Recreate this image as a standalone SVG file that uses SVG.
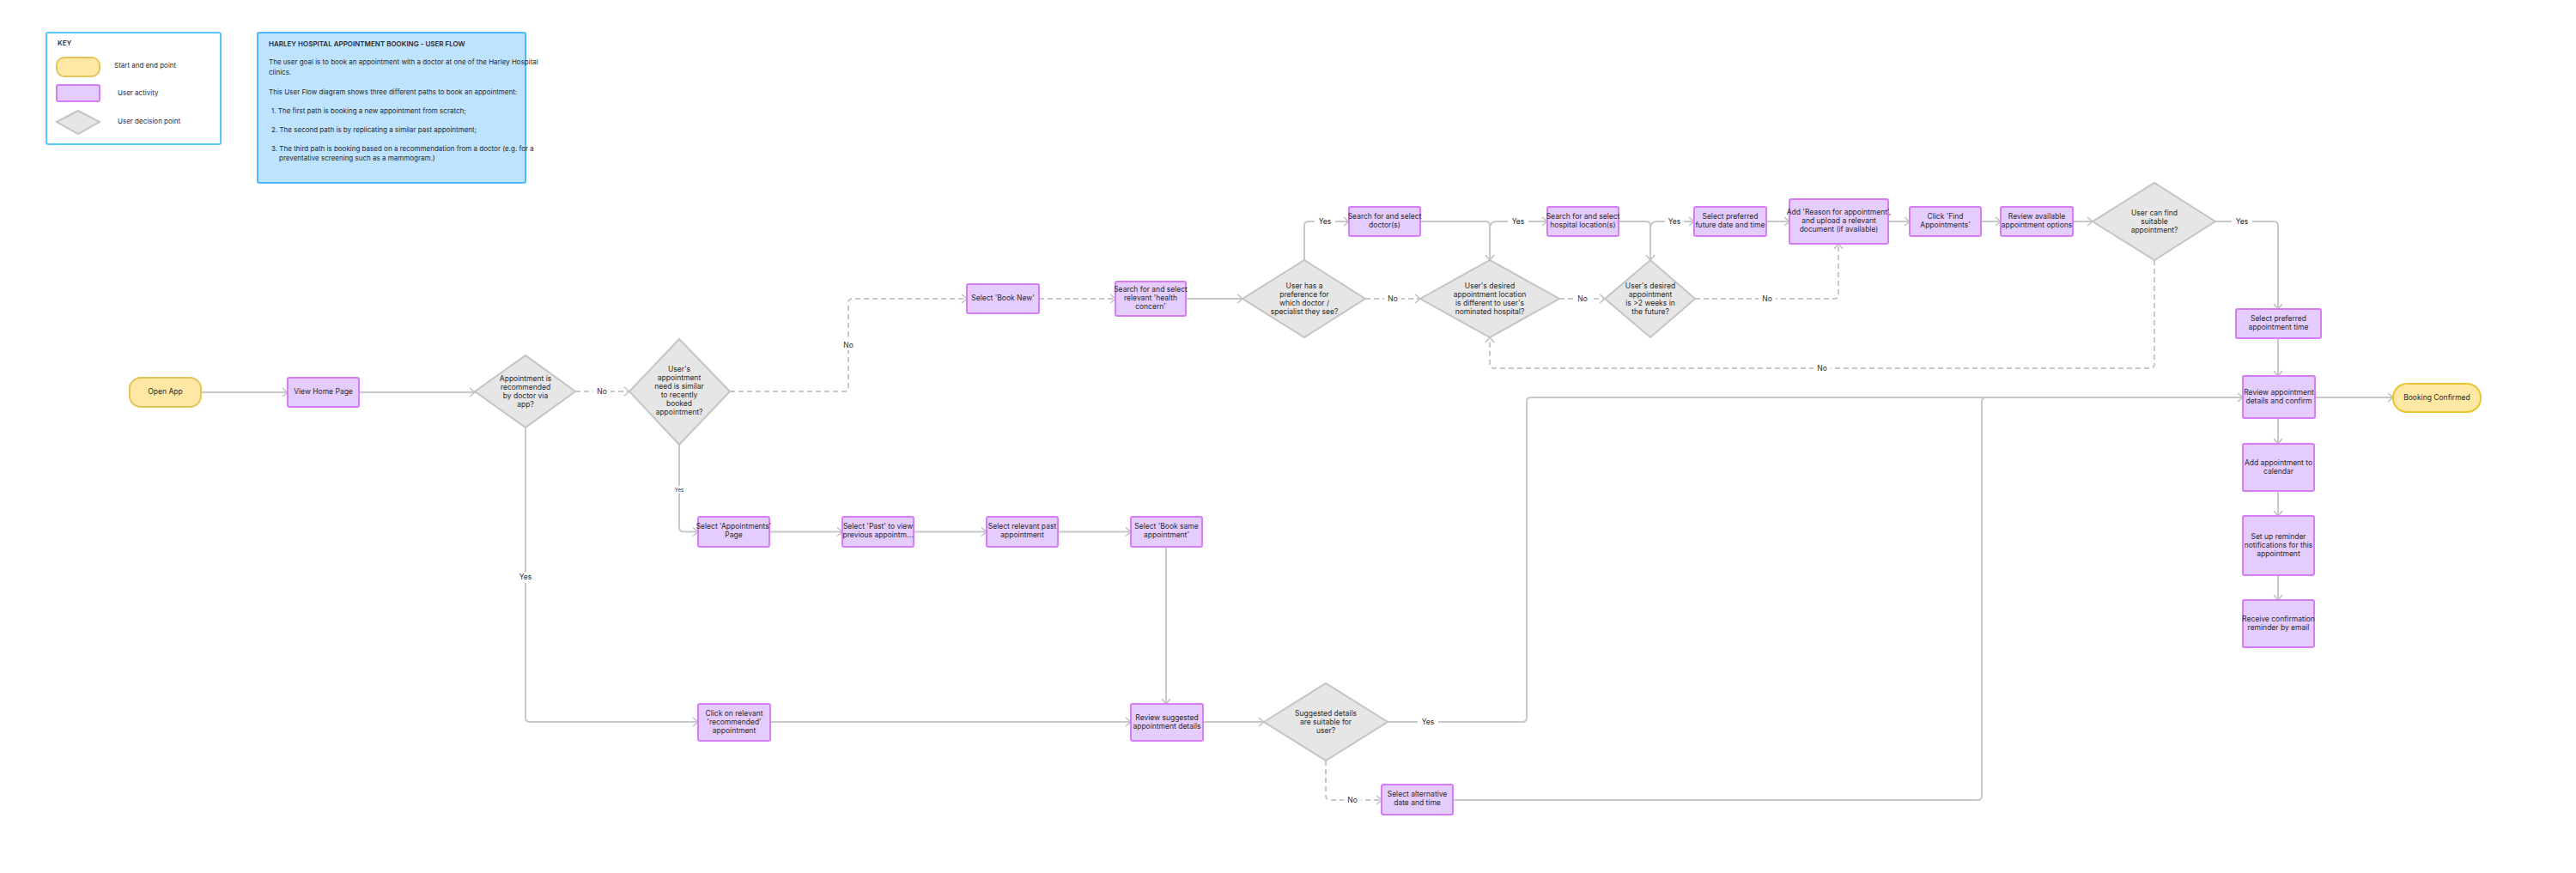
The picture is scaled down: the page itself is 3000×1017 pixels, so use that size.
<svg xmlns="http://www.w3.org/2000/svg" width="3000" height="1017" viewBox="0 0 3000 1017">
<style>
text{font-family:Inter,"Liberation Sans",sans-serif;fill:#2a2a2a}
.n text,.t{font-size:8.5px;text-anchor:middle;dominant-baseline:middle}
.act{fill:#E5CCFF;stroke:#D67CF7;stroke-width:2}
.ter{fill:#FFE8A3;stroke:#E2C55A;stroke-width:2}
.dec{fill:#E6E6E6;stroke:#C4C4C4;stroke-width:2}
.c path{fill:none;stroke:#C8C8C8;stroke-width:2}
.c .d{stroke-dasharray:6 4}
.lbl{font-size:8.5px;text-anchor:middle;dominant-baseline:middle}
.lb{fill:#fff}
.info text{font-size:8px}
</style>
<defs>
<marker id="a" markerUnits="userSpaceOnUse" markerWidth="10" markerHeight="12" refX="7" refY="6" orient="auto"><path d="M1,1 L7,6 L1,11" fill="none" stroke="#C0C0C0" stroke-width="1.5"/></marker>
</defs>
<rect width="3000" height="1017" fill="#fff"/>
<g id="key" class="info">
<rect x="54" y="38" width="203" height="130" rx="2" fill="#fff" stroke="#5CC6FF" stroke-width="2"/>
<text x="67" y="53" style="font-weight:600">KEY</text>
<rect x="66" y="67" width="50" height="22" rx="9" class="ter"/>
<text x="133" y="79">Start and end point</text>
<rect x="66" y="99" width="50" height="19" rx="2" class="act"/>
<text x="137" y="111">User activity</text>
<polygon points="66,142 91,129 116,142 91,156" class="dec"/>
<text x="137" y="144">User decision point</text>
</g>
<g id="info" class="info">
<rect x="300" y="38" width="312" height="175" rx="2" fill="#BDE3FF" stroke="#4DBBFF" stroke-width="2"/>
<text x="313" y="54" style="font-weight:600">HARLEY HOSPITAL APPOINTMENT BOOKING - USER FLOW</text>
<text x="313" y="75">The user goal is to book an appointment with a doctor at one of the Harley Hospital</text>
<text x="313" y="87">clinics.</text>
<text x="313" y="110">This User Flow diagram shows three different paths to book an appointment:</text>
<text x="316" y="132">1.  The first path is booking a new appointment from scratch;</text>
<text x="316" y="154">2.  The second path is by replicating a similar past appointment;</text>
<text x="316" y="176">3.  The third path is booking based on a recommendation from a doctor (e.g. for a</text>
<text x="325" y="187">preventative screening such as a mammogram.)</text>
</g>
<g id="connectors" class="c">
<path d="M234,457 L335,457" marker-end="url(#a)"/>
<path d="M418,457 L553,457" marker-end="url(#a)"/>
<path class="d" d="M670,456 L733,456" marker-end="url(#a)"/>
<path d="M612,498 L612,836 Q612,841 617,841 L813,841" marker-end="url(#a)"/>
<path class="d" d="M850,456 L983,456 Q988,456 988,451 L988,353 Q988,348 993,348 L1126,348" marker-end="url(#a)"/>
<path d="M791,518 L791,614 Q791,619.5 796,619.5 L813,619.5" marker-end="url(#a)"/>
<path d="M896,619.5 L981,619.5" marker-end="url(#a)"/>
<path d="M1064,619.5 L1149,619.5" marker-end="url(#a)"/>
<path d="M1232,619.5 L1317,619.5" marker-end="url(#a)"/>
<path d="M1358,637 L1358,820" marker-end="url(#a)"/>
<path d="M897,841 L1317,841" marker-end="url(#a)"/>
<path d="M1401,841 L1472,841" marker-end="url(#a)"/>
<path d="M1616,841 L1773,841 Q1778,841 1778,836 L1778,468 Q1778,463 1783,463 L2612,463" marker-end="url(#a)"/>
<path class="d" d="M1544,886 L1544,927 Q1544,932 1549,932 L1609,932" marker-end="url(#a)"/>
<path d="M1692,932 L2303,932 Q2308,932 2308,927 L2308,468 Q2308,463 2313,463 L2612,463"/>
<path class="d" d="M1210,348 L1299,348" marker-end="url(#a)"/>
<path d="M1381,348 L1447,348" marker-end="url(#a)"/>
<path d="M1519,303 L1519,263 Q1519,258 1524,258 L1571,258" marker-end="url(#a)"/>
<path class="d" d="M1590,348 L1654,348" marker-end="url(#a)"/>
<path d="M1654,258 L1730,258 Q1735,258 1735,263 L1735,303" marker-end="url(#a)"/>
<path d="M1735,266 Q1735,258 1743,258 L1802,258" marker-end="url(#a)"/>
<path class="d" d="M1816,348 L1869,348" marker-end="url(#a)"/>
<path d="M1885,258 L1917,258 Q1922,258 1922,263 L1922,303" marker-end="url(#a)"/>
<path d="M1922,266 Q1922,258 1930,258 L1973,258" marker-end="url(#a)"/>
<path class="d" d="M1974,348 L2136,348 Q2141,348 2141,343 L2141,284" marker-end="url(#a)"/>
<path d="M2057,258 L2084,258" marker-end="url(#a)"/>
<path d="M2199,258 L2224,258" marker-end="url(#a)"/>
<path d="M2307,258 L2330,258" marker-end="url(#a)"/>
<path d="M2414,258 L2437,258" marker-end="url(#a)"/>
<path d="M2580,258 L2648,258 Q2653,258 2653,263 L2653,360" marker-end="url(#a)"/>
<path class="d" d="M2509,303 L2509,424 Q2509,429 2504,429 L1740,429 Q1735,429 1735,424 L1735,393" marker-end="url(#a)"/>
<path d="M2653,394 L2653,438" marker-end="url(#a)"/>
<path d="M2696,463 L2787,463" marker-end="url(#a)"/>
<path d="M2653,487 L2653,517" marker-end="url(#a)"/>
<path d="M2653,572 L2653,601" marker-end="url(#a)"/>
<path d="M2653,670 L2653,699" marker-end="url(#a)"/>
<g class="labels">
<rect class="lb" x="691" y="450" width="20" height="12"/><text class="lbl" x="701" y="457">No</text>
<rect class="lb" x="600" y="667" width="24" height="12"/><text class="lbl" x="612" y="673">Yes</text>
<rect class="lb" x="978" y="396" width="20" height="12"/><text class="lbl" x="988" y="403">No</text>
<rect class="lb" x="783" y="566" width="16" height="9"/><text class="lbl" x="791" y="571" style="font-size:6px">Yes</text>
<rect class="lb" x="1651" y="835" width="24" height="12"/><text class="lbl" x="1663" y="842">Yes</text>
<rect class="lb" x="1565" y="926" width="20" height="12"/><text class="lbl" x="1575" y="933">No</text>
<rect class="lb" x="1531" y="252" width="24" height="12"/><text class="lbl" x="1543" y="259">Yes</text>
<rect class="lb" x="1612" y="342" width="20" height="12"/><text class="lbl" x="1622" y="349">No</text>
<rect class="lb" x="1756" y="252" width="24" height="12"/><text class="lbl" x="1768" y="259">Yes</text>
<rect class="lb" x="1833" y="342" width="20" height="12"/><text class="lbl" x="1843" y="349">No</text>
<rect class="lb" x="1939" y="252" width="22" height="12"/><text class="lbl" x="1950" y="259">Yes</text>
<rect class="lb" x="2048" y="342" width="20" height="12"/><text class="lbl" x="2058" y="349">No</text>
<rect class="lb" x="2599" y="252" width="24" height="12"/><text class="lbl" x="2611" y="259">Yes</text>
<rect class="lb" x="2112" y="423" width="20" height="12"/><text class="lbl" x="2122" y="430">No</text>
</g>
</g>
<g id="open-app" class="n"><rect class="ter" x="151" y="440" width="83" height="34" rx="13"/><text x="192.5" y="457">Open App</text></g>
<g id="view-home" class="n"><rect class="act" x="335" y="440" width="83" height="34" rx="2"/><text x="376.5" y="457">View Home Page</text></g>
<g id="d-recommended" class="n"><polygon class="dec" points="553,456 612,414 670,456 612,498"/><text x="612" y="442">Appointment is</text><text x="612" y="452">recommended</text><text x="612" y="462">by doctor via</text><text x="612" y="472">app?</text></g>
<g id="d-similar" class="n"><polygon class="dec" points="733,456 791,395 850,456 791,518"/><text x="791" y="431">User's</text><text x="791" y="441">appointment</text><text x="791" y="451">need is similar</text><text x="791" y="461">to recently</text><text x="791" y="471">booked</text><text x="791" y="481">appointment?</text></g>
<g id="book-new" class="n"><rect class="act" x="1126" y="331" width="84" height="34" rx="2"/><text x="1168" y="348">Select 'Book New'</text></g>
<g id="health" class="n"><rect class="act" x="1299" y="328" width="82" height="40" rx="2"/><text x="1340" y="338">Search for and select</text><text x="1340" y="348">relevant 'health</text><text x="1340" y="358">concern'</text></g>
<g id="d-pref" class="n"><polygon class="dec" points="1447,348 1519,303 1590,348 1519,393"/><text x="1519" y="334">User has a</text><text x="1519" y="344">preference for</text><text x="1519" y="354">which doctor /</text><text x="1519" y="364">specialist they see?</text></g>
<g id="doctor" class="n"><rect class="act" x="1571" y="241" width="83" height="34" rx="2"/><text x="1612.5" y="253">Search for and select</text><text x="1612.5" y="263">doctor(s)</text></g>
<g id="d-loc" class="n"><polygon class="dec" points="1654,348 1735,303 1816,348 1735,393"/><text x="1735" y="334">User's desired</text><text x="1735" y="344">appointment location</text><text x="1735" y="354">is different to user's</text><text x="1735" y="364">nominated hospital?</text></g>
<g id="hospital" class="n"><rect class="act" x="1802" y="241" width="83" height="34" rx="2"/><text x="1843.5" y="253">Search for and select</text><text x="1843.5" y="263">hospital location(s)</text></g>
<g id="d-weeks" class="n"><polygon class="dec" points="1869,348 1922,303 1974,348 1922,393"/><text x="1922" y="334">User's desired</text><text x="1922" y="344">appointment</text><text x="1922" y="354">is &gt;2 weeks in</text><text x="1922" y="364">the future?</text></g>
<g id="future" class="n"><rect class="act" x="1973" y="241" width="84" height="34" rx="2"/><text x="2015" y="253">Select preferred</text><text x="2015" y="263">future date and time</text></g>
<g id="reason" class="n"><rect class="act" x="2084" y="232" width="115" height="52" rx="2"/><text x="2141.5" y="248">Add 'Reason for appointment',</text><text x="2141.5" y="258">and upload a relevant</text><text x="2141.5" y="268">document (if available)</text></g>
<g id="find" class="n"><rect class="act" x="2224" y="241" width="83" height="34" rx="2"/><text x="2265.5" y="253">Click 'Find</text><text x="2265.5" y="263">Appointments'</text></g>
<g id="review-options" class="n"><rect class="act" x="2330" y="241" width="84" height="34" rx="2"/><text x="2372" y="253">Review available</text><text x="2372" y="263">appointment options</text></g>
<g id="d-find" class="n"><polygon class="dec" points="2437,258 2509,213 2580,258 2509,303"/><text x="2509" y="249">User can find</text><text x="2509" y="259">suitable</text><text x="2509" y="269">appointment?</text></g>
<g id="pref-time" class="n"><rect class="act" x="2604" y="360" width="99" height="34" rx="2"/><text x="2653.5" y="372">Select preferred</text><text x="2653.5" y="382">appointment time</text></g>
<g id="review-confirm" class="n"><rect class="act" x="2612" y="438" width="84" height="49" rx="2"/><text x="2654" y="458">Review appointment</text><text x="2654" y="468">details and confirm</text></g>
<g id="booking-confirmed" class="n"><rect x="2787" y="447" width="102" height="33" rx="16" fill="#FFE8A3" stroke="#E6C62E" stroke-width="2"/><text x="2838" y="464">Booking Confirmed</text></g>
<g id="calendar" class="n"><rect class="act" x="2612" y="517" width="83" height="55" rx="2"/><text x="2653.5" y="540">Add appointment to</text><text x="2653.5" y="550">calendar</text></g>
<g id="reminder" class="n"><rect class="act" x="2612" y="601" width="83" height="69" rx="2"/><text x="2653.5" y="626">Set up reminder</text><text x="2653.5" y="636">notifications for this</text><text x="2653.5" y="646">appointment</text></g>
<g id="email" class="n"><rect class="act" x="2612" y="699" width="83" height="55" rx="2"/><text x="2653.5" y="722">Receive confirmation</text><text x="2653.5" y="732">reminder by email</text></g>
<g id="appointments-page" class="n"><rect class="act" x="813" y="602" width="83" height="35" rx="2"/><text x="854.5" y="614">Select 'Appointments'</text><text x="854.5" y="624">Page</text></g>
<g id="past" class="n"><rect class="act" x="981" y="602" width="83" height="35" rx="2"/><text x="1022.5" y="614">Select 'Past' to view</text><text x="1022.5" y="624">previous appointm...</text></g>
<g id="relevant-past" class="n"><rect class="act" x="1149" y="602" width="83" height="35" rx="2"/><text x="1190.5" y="614">Select relevant past</text><text x="1190.5" y="624">appointment</text></g>
<g id="book-same" class="n"><rect class="act" x="1317" y="602" width="83" height="35" rx="2"/><text x="1358.5" y="614">Select 'Book same</text><text x="1358.5" y="624">appointment'</text></g>
<g id="recommended" class="n"><rect class="act" x="813" y="820" width="84" height="43" rx="2"/><text x="855" y="832">Click on relevant</text><text x="855" y="842">'recommended'</text><text x="855" y="852">appointment</text></g>
<g id="review-suggested" class="n"><rect class="act" x="1317" y="820" width="84" height="43" rx="2"/><text x="1359" y="837">Review suggested</text><text x="1359" y="847">appointment details</text></g>
<g id="d-suggested" class="n"><polygon class="dec" points="1472,841 1544,796 1616,841 1544,886"/><text x="1544" y="832">Suggested details</text><text x="1544" y="842">are suitable for</text><text x="1544" y="852">user?</text></g>
<g id="alternative" class="n"><rect class="act" x="1609" y="914" width="83" height="35" rx="2"/><text x="1650.5" y="926">Select alternative</text><text x="1650.5" y="936">date and time</text></g>
</svg>
